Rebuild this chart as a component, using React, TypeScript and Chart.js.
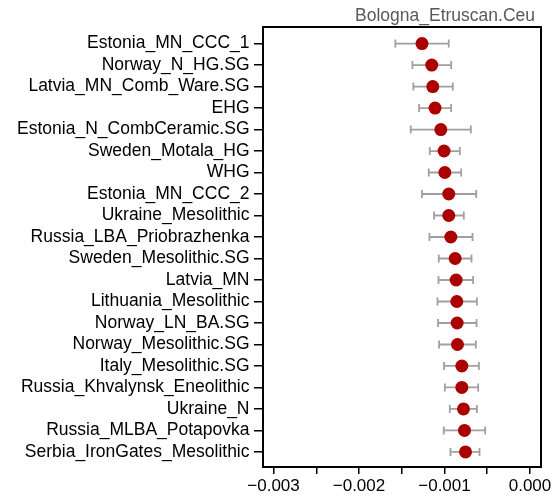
import React, { useEffect, useRef } from "react";
import { Chart, registerables } from "chart.js";

Chart.register(...registerables);

const labels = [
  "Estonia_MN_CCC_1",
  "Norway_N_HG.SG",
  "Latvia_MN_Comb_Ware.SG",
  "EHG",
  "Estonia_N_CombCeramic.SG",
  "Sweden_Motala_HG",
  "WHG",
  "Estonia_MN_CCC_2",
  "Ukraine_Mesolithic",
  "Russia_LBA_Priobrazhenka",
  "Sweden_Mesolithic.SG",
  "Latvia_MN",
  "Lithuania_Mesolithic",
  "Norway_LN_BA.SG",
  "Norway_Mesolithic.SG",
  "Italy_Mesolithic.SG",
  "Russia_Khvalynsk_Eneolithic",
  "Ukraine_N",
  "Russia_MLBA_Potapovka",
  "Serbia_IronGates_Mesolithic",
];

const means = [
  -0.001263, -0.001149, -0.001137, -0.00111, -0.001043, -0.001005, -0.000996,
  -0.00095, -0.00095, -0.000926, -0.000875, -0.000864, -0.000856, -0.000852,
  -0.000848, -0.000797, -0.000797, -0.000778, -0.000766, -0.000754,
];

const lows = [
  -0.001575, -0.001375, -0.001364, -0.001297, -0.001395, -0.001172, -0.001184,
  -0.001263, -0.001122, -0.001176, -0.001067, -0.00107, -0.001082, -0.001075,
  -0.001063, -0.001005, -0.000996, -0.000938, -0.001008, -0.00093,
];

const highs = [
  -0.00095, -0.000922, -0.000903, -0.000922, -0.000692, -0.000821, -0.000805,
  -0.000629, -0.000774, -0.000672, -0.000684, -0.000665, -0.000621, -0.000625,
  -0.000633, -0.000598, -0.000606, -0.000621, -0.000524, -0.00059,
];

const xTickLabels = ["\u22120.003", "\u22120.002", "\u22120.001", "0.000"];
const titleText = "Bologna_Etruscan.Ceu";

const FONT = '"Liberation Sans", Arial, sans-serif';

export default function App() {
  const ref = useRef<HTMLCanvasElement>(null);

  useEffect(() => {
    if (!ref.current) return;

    const errorBars = {
      id: "errorBars",
      beforeDatasetsDraw(chart: any) {
        const ctx = chart.ctx;
        const xs = chart.scales.x;
        const ys = chart.scales.y;
        ctx.save();
        ctx.strokeStyle = "#a0a0a0";
        ctx.lineWidth = 1.8;
        for (let i = 0; i < labels.length; i++) {
          const y = ys.getPixelForValue(i);
          const x1 = xs.getPixelForValue(lows[i]);
          const x2 = xs.getPixelForValue(highs[i]);
          ctx.beginPath();
          ctx.moveTo(x1, y);
          ctx.lineTo(x2, y);
          ctx.moveTo(x1, y - 4);
          ctx.lineTo(x1, y + 4);
          ctx.moveTo(x2, y - 4);
          ctx.lineTo(x2, y + 4);
          ctx.stroke();
        }
        ctx.restore();
      },
    };

    const frameAndTitle = {
      id: "frameAndTitle",
      afterDraw(chart: any) {
        const ctx = chart.ctx;
        const a = chart.chartArea;
        ctx.save();
        ctx.strokeStyle = "#000";
        ctx.lineWidth = 2;
        ctx.strokeRect(a.left, a.top, a.right - a.left, a.bottom - a.top);
        ctx.fillStyle = "#595959";
        ctx.font = `17.5px ${FONT}`;
        ctx.textAlign = "right";
        ctx.textBaseline = "alphabetic";
        ctx.fillText(titleText, a.right - 6, a.top - 6);
        ctx.restore();
      },
    };

    const chart = new Chart(ref.current, {
      type: "scatter",
      data: {
        datasets: [
          {
            data: means.map((m, i) => ({ x: m, y: i })),
            backgroundColor: "#aa0000",
            borderWidth: 0,
            pointRadius: 6.5,
            pointHoverRadius: 6.5,
          },
        ],
      },
      options: {
        animation: false,
        responsive: false,
        maintainAspectRatio: false,
        layout: { padding: { top: 27, right: 16, left: 0, bottom: 0 } },
        plugins: {
          legend: { display: false },
          tooltip: { enabled: false },
          title: { display: false },
        },
        scales: {
          x: {
            type: "linear",
            min: -0.003123,
            max: 0.000129,
            afterBuildTicks(scale: any) {
              const t = [];
              for (let k = 0; k <= 6; k++) t.push({ value: -0.003 + k * 0.0005 });
              scale.ticks = t;
            },
            afterFit(scale: any) {
              scale.height = 30;
            },
            ticks: {
              autoSkip: false,
              maxRotation: 0,
              color: "#000",
              font: { family: FONT, size: 17 },
              padding: 2,
              callback: (v: any, i: number) => (i % 2 === 0 ? xTickLabels[i / 2] : ""),
            },
            grid: {
              drawOnChartArea: false,
              drawTicks: true,
              tickLength: 7,
              color: "#000",
              lineWidth: 1.5,
            },
            border: { display: false },
          },
          y: {
            type: "linear",
            reverse: true,
            min: -0.77,
            max: 19.7,
            afterBuildTicks(scale: any) {
              scale.ticks = labels.map((_, i) => ({ value: i }));
            },
            afterFit(scale: any) {
              scale.width = 263;
            },
            ticks: {
              autoSkip: false,
              color: "#000",
              font: { family: FONT, size: 17.5 },
              padding: 4.5,
              callback: (v: any) => labels[v] ?? "",
            },
            grid: {
              drawOnChartArea: false,
              drawTicks: true,
              tickLength: 9,
              color: "#000",
              lineWidth: 1.5,
            },
            border: { display: false },
          },
        },
      },
      plugins: [errorBars, frameAndTitle],
    });

    return () => chart.destroy();
  }, []);

  return (
    <div style={{ position: "fixed", left: 0, top: 0, width: 557, height: 497, background: "#fff" }}>
      <canvas ref={ref} width={557} height={497} style={{ width: 557, height: 497 }} />
    </div>
  );
}
